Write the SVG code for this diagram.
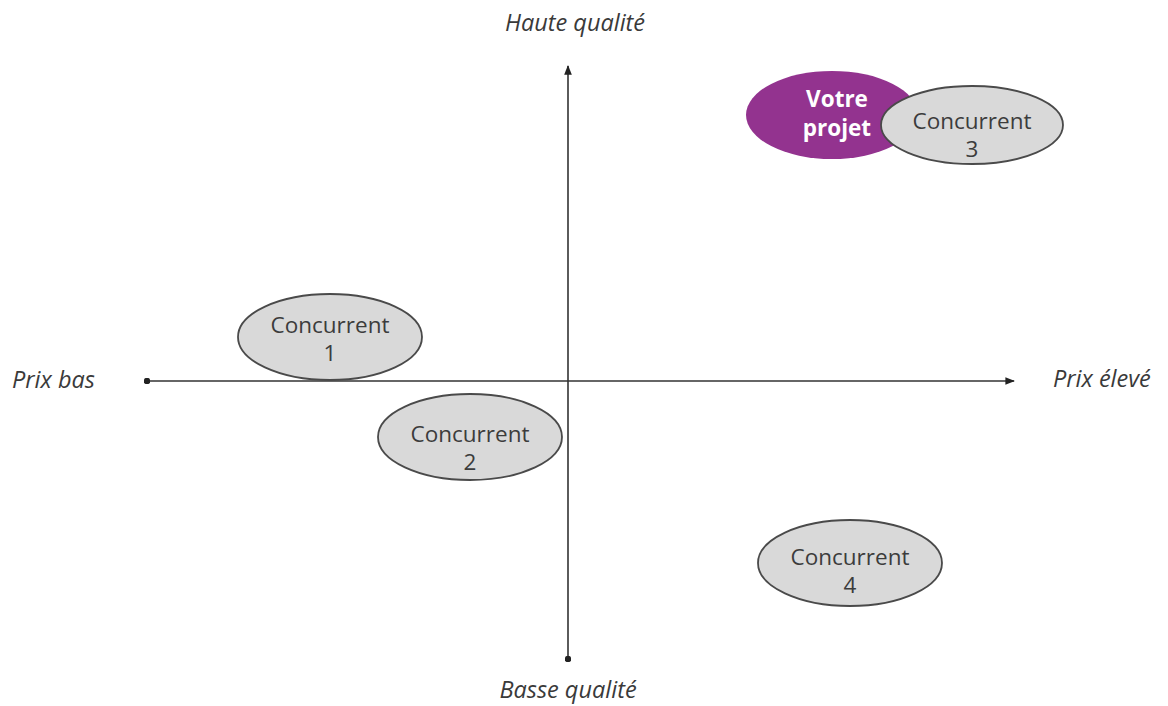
<svg xmlns="http://www.w3.org/2000/svg" width="1168" height="706" viewBox="0 0 1168 706">
  <style>
    .axis { stroke: #333; stroke-width: 1.6; fill: none; }
    .label { font-family: "Open Sans", "Liberation Sans", sans-serif; font-style: italic; font-size: 23.5px; fill: #3a3a3a; }
    .comp ellipse { fill: #d9d9d9; stroke: #4a4a4a; stroke-width: 1.8; }
    .comp text { font-family: "Open Sans", "Liberation Sans", sans-serif; font-size: 22.5px; fill: #3c3c3c; text-anchor: middle; }
    .own ellipse { fill: #93338f; }
    .own text { font-family: "Open Sans", "Liberation Sans", sans-serif; font-size: 22.5px; font-weight: bold; fill: #fff; text-anchor: middle; }
  </style>
  <defs>
    <marker id="arrow" viewBox="0 0 10 10" refX="9" refY="5" markerWidth="6" markerHeight="6" orient="auto">
      <path d="M0,1 L10,5 L0,9 Z" fill="#222"/>
    </marker>
    <marker id="dot" viewBox="0 0 10 10" refX="5" refY="5" markerWidth="4" markerHeight="4" orient="auto">
      <circle cx="5" cy="5" r="5" fill="#222"/>
    </marker>
  </defs>
  <rect width="1168" height="706" fill="#fff"/>

  <!-- axes -->
  <g id="connectors">
    <line class="axis" x1="147" y1="381" x2="1014" y2="381" marker-start="url(#dot)" marker-end="url(#arrow)"/>
    <line class="axis" x1="568" y1="659" x2="568" y2="66" marker-start="url(#dot)" marker-end="url(#arrow)"/>
  </g>

  <!-- axis labels -->
  <text class="label" x="575" y="31" text-anchor="middle">Haute qualité</text>
  <text class="label" x="568" y="698" text-anchor="middle">Basse qualité</text>
  <text class="label" x="12" y="388">Prix bas</text>
  <text class="label" x="1053" y="387">Prix élevé</text>

  <g id="votre-projet" class="own">
    <ellipse cx="832" cy="115" rx="86" ry="44"/>
    <text x="837" y="107">Votre</text>
    <text x="837" y="136">projet</text>
  </g>

  <g id="concurrent-3" class="comp">
    <ellipse cx="972" cy="125" rx="91" ry="39"/>
    <text x="972" y="129">Concurrent</text>
    <text x="972" y="157">3</text>
  </g>

  <g id="concurrent-1" class="comp">
    <ellipse cx="330" cy="337" rx="92" ry="43"/>
    <text x="330" y="333">Concurrent</text>
    <text x="330" y="361">1</text>
  </g>

  <g id="concurrent-2" class="comp">
    <ellipse cx="470" cy="437" rx="92" ry="43"/>
    <text x="470" y="442">Concurrent</text>
    <text x="470" y="470">2</text>
  </g>

  <g id="concurrent-4" class="comp">
    <ellipse cx="850" cy="563" rx="92" ry="43"/>
    <text x="850" y="565">Concurrent</text>
    <text x="850" y="593">4</text>
  </g>
</svg>
